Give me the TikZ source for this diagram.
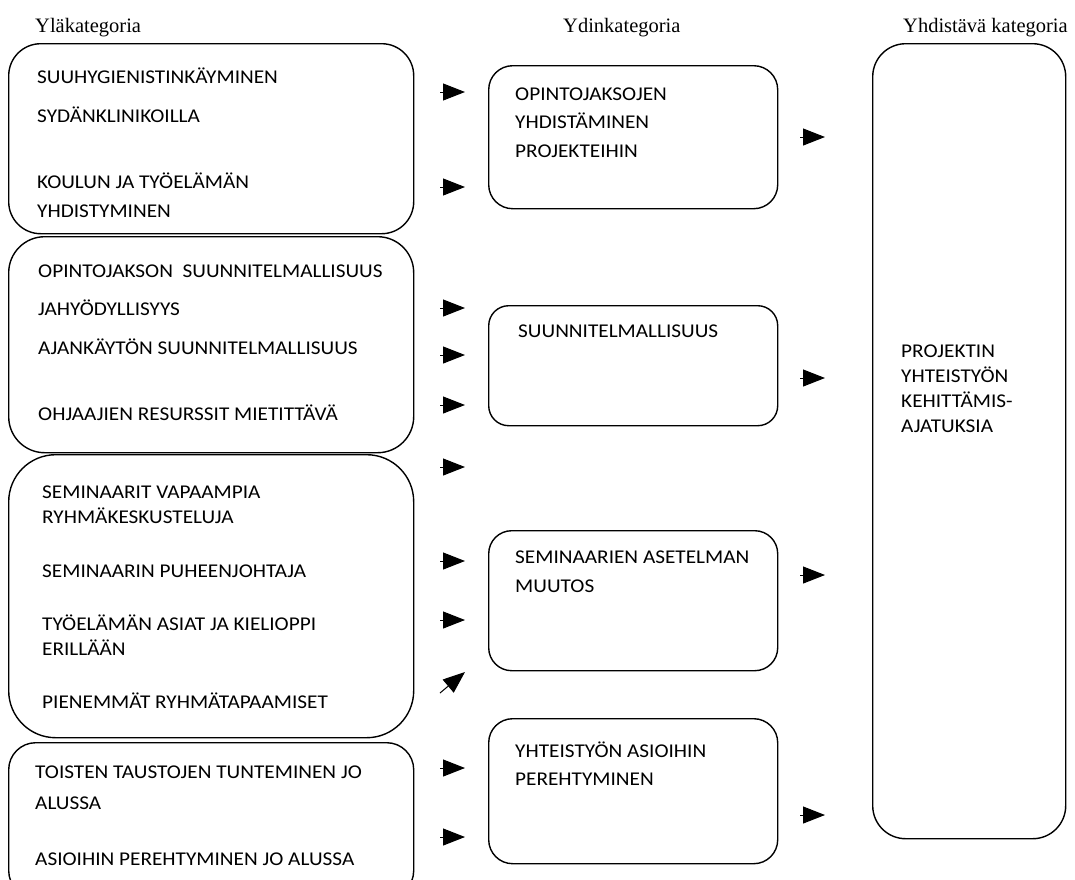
\documentclass[tikz,border=0pt]{standalone}
\usepackage{fontspec}
\setmainfont{Liberation Serif}
\newfontfamily\boxfont[FakeStretch=1.09]{Carlito}
\usetikzlibrary{arrows.meta}
\begin{document}
\begin{tikzpicture}[x=1pt,y=-1pt,
  catbox/.style={draw, line width=1.4pt, inner sep=0pt, anchor=north west},
  % multi-line texts are placed by the baseline of their last line
  itemtext/.style={anchor=base west, inner sep=0pt, align=left,
    font=\boxfont\fontsize{19.5}{#1}\selectfont},
  itemtext/.default=25,
  heading/.style={anchor=base west, inner sep=0pt, font=\fontsize{20.5}{24}\selectfont},
  stubarrow/.style={line width=1pt, -{Triangle[length=22pt,width=17pt]}}
]
\useasboundingbox (0,0) rectangle (1075,879);
\clip (0,0) rectangle (1075,879);

% column headings
\node[heading] (h1) at (35,32) {Yläkategoria};
\node[heading] (h2) at (563,32) {Ydinkategoria};
\node[heading] (h3) at (903,32) {Yhdistävä kategoria};

% upper categories
\node[catbox, rounded corners=32pt, minimum width=405pt, minimum height=190pt] (u1) at (8,43) {};
\node[catbox, rounded corners=36pt, minimum width=405pt, minimum height=216pt] (u2) at (8,236) {};
\node[catbox, rounded corners=47pt, minimum width=405pt, minimum height=283pt] (u3) at (8,454) {};
\node[catbox, rounded corners=27pt, minimum width=405pt, minimum height=155pt] (u4) at (8,742) {};

\node[itemtext] (t11) at (37,83) {SUUHYGIENISTINKÄYMINEN};
\node[itemtext] (t12) at (37,122) {SYDÄNKLINIKOILLA};
\node[itemtext=29] (t13) at (37,217) {KOULUN JA TYÖELÄMÄN\\YHDISTYMINEN};

\node[itemtext] (t21) at (38,277) {OPINTOJAKSON\ \ SUUNNITELMALLISUUS};
\node[itemtext] (t22) at (38,315) {JAHYÖDYLLISYYS};
\node[itemtext] (t23) at (38,354) {AJANKÄYTÖN SUUNNITELMALLISUUS};
\node[itemtext] (t24) at (38,420) {OHJAAJIEN RESURSSIT MIETITTÄVÄ};

\node[itemtext=25] (t31) at (42,523) {SEMINAARIT VAPAAMPIA\\RYHMÄKESKUSTELUJA};
\node[itemtext] (t32) at (42,577) {SEMINAARIN PUHEENJOHTAJA};
\node[itemtext=25] (t33) at (42,655) {TYÖELÄMÄN ASIAT JA KIELIOPPI\\ERILLÄÄN};
\node[itemtext] (t34) at (42,708) {PIENEMMÄT RYHMÄTAPAAMISET};

\node[itemtext=31] (t41) at (35,809) {TOISTEN TAUSTOJEN TUNTEMINEN JO\\ALUSSA};
\node[itemtext] (t42) at (35,865) {ASIOIHIN PEREHTYMINEN JO ALUSSA};

% core categories
\node[catbox, rounded corners=24pt, minimum width=289pt, minimum height=143pt] (c1) at (488,65) {};
\node[catbox, rounded corners=20pt, minimum width=289pt, minimum height=120pt] (c2) at (488,305) {};
\node[catbox, rounded corners=23pt, minimum width=289pt, minimum height=140pt] (c3) at (488,530) {};
\node[catbox, rounded corners=24pt, minimum width=289pt, minimum height=145pt] (c4) at (488,718) {};

\node[itemtext=28.5] (k1) at (515,157) {OPINTOJAKSOJEN\\YHDISTÄMINEN\\PROJEKTEIHIN};
\node[itemtext] (k2) at (518,337) {SUUNNITELMALLISUUS};
\node[itemtext=29] (k3) at (515,592) {SEMINAARIEN ASETELMAN\\MUUTOS};
\node[itemtext=28] (k4) at (515,785) {YHTEISTYÖN ASIOIHIN\\PEREHTYMINEN};

% uniting category
\node[catbox, rounded corners=33pt, minimum width=193pt, minimum height=795pt] (r1) at (872,43) {};
\node[itemtext=25] (rt) at (901,432) {PROJEKTIN\\YHTEISTYÖN\\KEHITTÄMIS-\\AJATUKSIA};

% arrows towards the core categories
\foreach \y [count=\i] in {92,187,308,355,405,467,561,620,768,837} {
  \coordinate (in\i s) at (440,\y);
  \coordinate (in\i e) at (465,\y);
  \draw[stubarrow] (in\i s) -- (in\i e);
}
\coordinate (diag s) at (440,693);
\coordinate (diag e) at (465,672);
\draw[stubarrow] (diag s) -- (diag e);

% arrows towards the uniting category
\foreach \y [count=\i] in {137,378,575,815} {
  \coordinate (out\i s) at (800,\y);
  \coordinate (out\i e) at (825,\y);
  \draw[stubarrow] (out\i s) -- (out\i e);
}
\end{tikzpicture}
\end{document}
